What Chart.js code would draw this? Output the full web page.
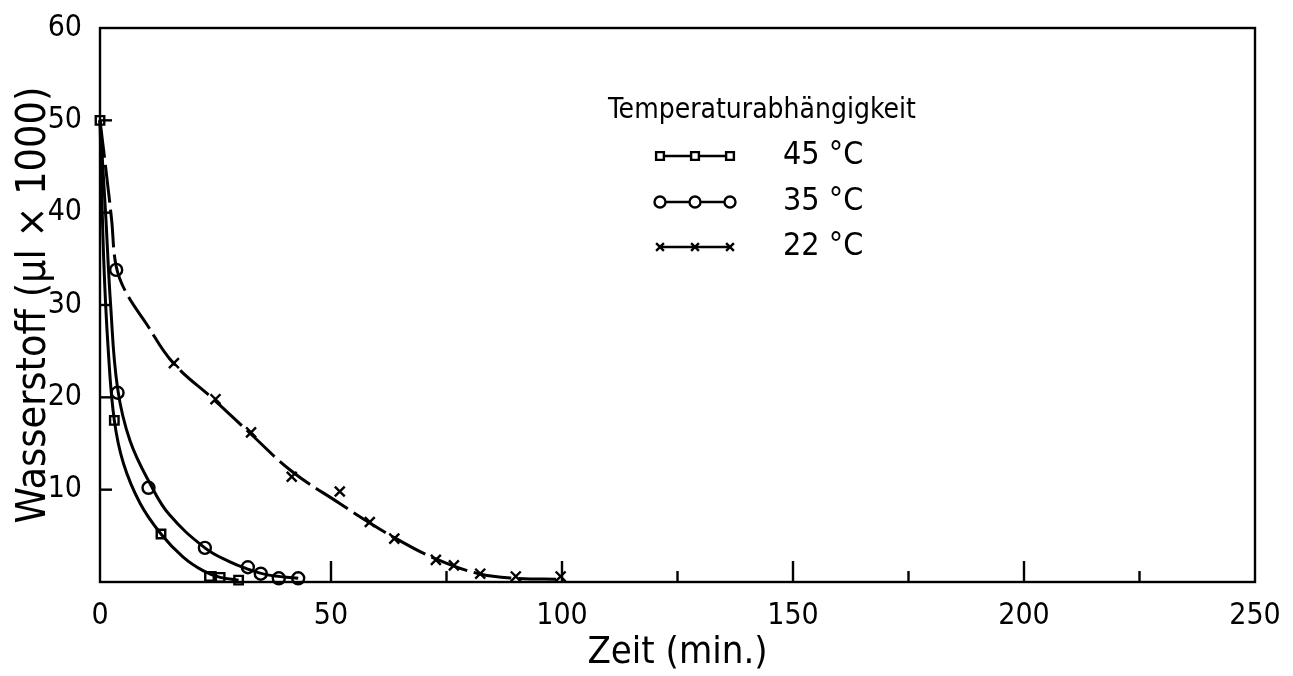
<!DOCTYPE html>
<html lang="de">
<head>
<meta charset="UTF-8">
<title>Temperaturabhängigkeit</title>
<script src="https://cdn.jsdelivr.net/npm/chart.js@4.4.1/dist/chart.umd.min.js"></script>
<style>
body {
margin: 0;
padding: 0;
background-color: #ffffff;
}
.container {
width: 1293px;
height: 676px;
}
</style>
</head>
<body>
<div class="container">
<canvas id="h2Chart"></canvas>
</div>
<script>
// Werte (Zeit in min, Wasserstoff in µl x 1000)
const labels = ['45 °C', '35 °C', '22 °C'];

// Messpunkte (Marker)
const t45 = [0, 3.1, 13.2, 23.7, 26, 30];
const h45 = [50, 17.5, 5.2, 0.6, 0.5, 0.2];
const t35 = [3.5, 3.8, 10.5, 22.7, 32, 34.8, 38.7, 42.9];
const h35 = [33.8, 20.5, 10.2, 3.7, 1.6, 0.9, 0.4, 0.4];
const t22 = [16, 25, 32.7, 41.5, 51.9, 58.4, 63.7, 72.7, 76.6, 82.3, 90, 99.7];
const h22 = [23.7, 19.8, 16.2, 11.4, 9.8, 6.5, 4.7, 2.4, 1.8, 0.9, 0.6, 0.6];

const c45x = [0, 0.8, 1.8, 3.1, 5.1, 8.7, 13.2, 18, 22.4, 26, 30];
const c45y = [50, 35, 25, 17.5, 12.8, 8.5, 5.2, 2.7, 1.2, 0.5, 0.2];
const c35x = [0, 1.2, 2.3, 3.8, 6.5, 11, 15, 22.7, 28, 32, 36, 42.9];
const c35y = [50, 40, 30, 21, 15.3, 10.5, 7.3, 3.7, 2.2, 1.4, 0.8, 0.4];
const c22x = [0, 1.2, 2.5, 3.5, 5.6, 10, 15.7, 25, 32.7, 41.5, 51.9, 58.4, 63.7, 72.7, 82, 90, 99.7];
const c22y = [50, 45, 39.3, 34.2, 31.4, 28.0, 23.8, 19.6, 16.0, 12.0, 8.5, 6.4, 4.8, 2.5, 0.9, 0.4, 0.3];

const xTicks = [0, 50, 100, 150, 200, 250];
const yTicks = [10, 20, 30, 40, 50, 60];

const font = "'DejaVu Sans Condensed', 'Liberation Sans Narrow', sans-serif";

function toPoints(xs, ys) {
return xs.map((x, i) => ({x: x, y: ys[i]}));
}

function curveDataset(xs, ys, dash) {
return {
data: toPoints(xs, ys),
showLine: true,
borderColor: '#000',
borderWidth: 3,
borderDash: dash,
tension: 0.4,
pointRadius: 0,
clip: false,
legendless: true
};
}

function markerDataset(label, xs, ys, style) {
return {
label: label,
data: toPoints(xs, ys),
showLine: false,
pointStyle: style,
pointRadius: style === 'crossRot' ? 7 : 6,
pointBorderWidth: 2.4,
pointBorderColor: '#000',
pointBackgroundColor: '#fff',
clip: false
};
}

// Box, innere Teilstriche und Legende im Diagramm
const framePlugin = {
id: 'frame',
afterDraw(chart) {
const ctx = chart.ctx;
const a = chart.chartArea;
const xs = chart.scales.x;
const ys = chart.scales.y;
ctx.save();
ctx.strokeStyle = '#000';
ctx.lineWidth = 2.4;
ctx.strokeRect(a.left, a.top, a.right - a.left, a.bottom - a.top);
for (let v = 25; v < 250; v += 25) {
const px = xs.getPixelForValue(v);
const len = v % 50 === 0 ? 21 : 11;
ctx.beginPath();
ctx.moveTo(px, a.bottom);
ctx.lineTo(px, a.bottom - len);
ctx.stroke();
}
for (let v = 10; v < 60; v += 10) {
const py = ys.getPixelForValue(v);
ctx.beginPath();
ctx.moveTo(a.left, py);
ctx.lineTo(a.left + 12, py);
ctx.stroke();
}

// Legende
ctx.fillStyle = '#000';
ctx.textBaseline = 'middle';
ctx.textAlign = 'left';
ctx.font = '28px ' + font;
ctx.fillText('Temperaturabhängigkeit', 608, 111);
const rows = [156, 202, 247];
chart.data.datasets.filter(ds => !ds.legendless).forEach((ds, i) => {
const y = rows[i];
ctx.lineWidth = 2.6;
ctx.setLineDash([]);
ctx.strokeStyle = '#000';
ctx.beginPath();
ctx.moveTo(660, y);
ctx.lineTo(730, y);
ctx.stroke();
[660, 695, 730].forEach(x => {
ctx.fillStyle = '#fff';
ctx.strokeStyle = '#000';
ctx.lineWidth = 2.4;
Chart.helpers.drawPoint(ctx, {pointStyle: ds.pointStyle, radius: 5.5, borderWidth: 2.4}, x, y);
});
ctx.fillStyle = '#000';
ctx.font = '32px ' + font;
ctx.fillText(ds.label, 783, y);
});
ctx.restore();
}
};

const ctx = document.getElementById('h2Chart').getContext('2d');
new Chart(ctx, {
type: 'scatter',
data: {
datasets: [
curveDataset(c45x, c45y, []),
curveDataset(c35x, c35y, []),
curveDataset(c22x, c22y, [38, 7]),
markerDataset(labels[0], t45, h45, 'rect'),
markerDataset(labels[1], t35, h35, 'circle'),
markerDataset(labels[2], t22, h22, 'crossRot')
]
},
options: {
responsive: true,
maintainAspectRatio: false,
animation: false,
layout: {padding: {top: 24, right: 38, left: 0, bottom: 0}},
plugins: {
legend: {display: false},
tooltip: {enabled: false}
},
scales: {
x: {
type: 'linear',
min: 0,
max: 250,
afterFit(scale) { scale.height = 94; },
afterBuildTicks(scale) { scale.ticks = xTicks.map(v => ({value: v})); },
grid: {display: false},
border: {display: false},
ticks: {color: '#000', padding: 8, maxRotation: 0, font: {family: font, size: 30}},
title: {
display: true,
text: 'Zeit (min.)',
color: '#000',
padding: 0,
font: {family: font, size: 38}
}
},
y: {
type: 'linear',
min: 0,
max: 60,
afterFit(scale) { scale.width = 100; },
afterBuildTicks(scale) { scale.ticks = yTicks.map(v => ({value: v})); },
grid: {display: false},
border: {display: false},
ticks: {color: '#000', padding: 10, font: {family: font, size: 30}},
title: {
display: true,
text: 'Wasserstoff (µl × 1000)',
color: '#000',
padding: {top: 10, bottom: 0},
font: {family: font, size: 41}
}
}
}
},
plugins: [framePlugin]
});
</script>
</body>
</html>
